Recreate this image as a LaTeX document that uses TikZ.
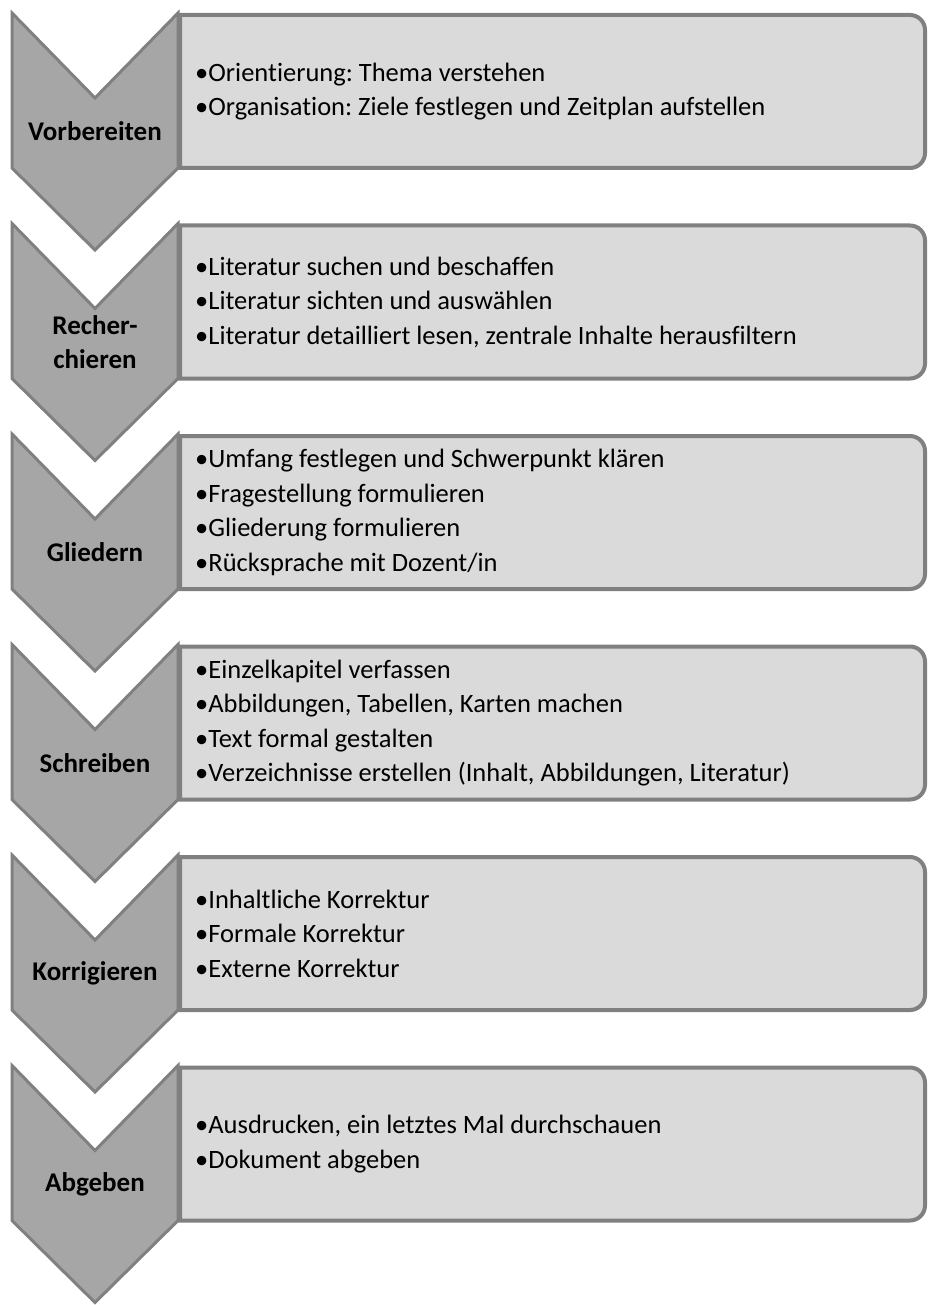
\documentclass[tikz,border=0pt]{standalone}
\usepackage{fontspec}
\setmainfont{Carlito}[Ligatures=NoCommon]
\frenchspacing
\definecolor{chevfill}{HTML}{A6A6A6}
\definecolor{linegray}{HTML}{808080}
\definecolor{boxfill}{HTML}{DADADA}
\tikzset{
  chev/.style={fill=chevfill, draw=linegray, line width=3pt, line join=miter},
  panel/.style={fill=boxfill, draw=linegray, line width=4pt},
  lbl/.style={font=\fontsize{27}{34}\selectfont\bfseries, align=center, inner sep=0pt},
  items/.style={font=\fontsize{26.5}{34.5}\selectfont, align=left, anchor=west, inner sep=0pt},
}
\newcommand\stagebox[4]{%
  \pgfmathsetmacro\tp{#2}%
  \draw[panel] (180,-\tp-2) -- (910,-\tp-2) arc[start angle=90,end angle=0,radius=15]
     -- (925,-\tp-140) arc[start angle=0,end angle=-90,radius=15] -- (180,-\tp-155) -- cycle;
  \draw[chev] (12,-\tp) -- (95,-\tp-85) -- (178,-\tp) -- (178,-\tp-155)
     -- (95,-\tp-237) -- (12,-\tp-155) -- cycle;
  \node[lbl] (#1-label) at (95,-\tp-118.5) {#3};
  \node[items] (#1-items) at (195,-\tp-78.5) {#4};
}
\begin{document}
\begin{tikzpicture}[x=1pt,y=1pt]
\useasboundingbox (0,0) rectangle (927,-1305);
\fill[white] (0,0) rectangle (927,-1305);
\stagebox{s1}{13}{Vorbereiten}{•Orientierung: Thema verstehen\\•Organisation: Ziele festlegen und Zeitplan aufstellen}
\stagebox{s2}{223.5}{Recher-\\chieren}{•Literatur suchen und beschaffen\\•Literatur sichten und auswählen\\•Literatur detailliert lesen, zentrale Inhalte herausfiltern}
\stagebox{s3}{434}{Gliedern}{•Umfang festlegen und Schwerpunkt klären\\•Fragestellung formulieren\\•Gliederung formulieren\\•Rücksprache mit Dozent/in}
\stagebox{s4}{644.5}{Schreiben}{•Einzelkapitel verfassen\\•Abbildungen, Tabellen, Karten machen\\•Text formal gestalten\\•Verzeichnisse erstellen (Inhalt, Abbildungen, Literatur)}
\stagebox{s5}{855}{Korrigieren}{•Inhaltliche Korrektur\\•Formale Korrektur\\•Externe Korrektur}
\stagebox{s6}{1065.5}{Abgeben}{•Ausdrucken, ein letztes Mal durchschauen\\•Dokument abgeben}
\end{tikzpicture}
\end{document}
